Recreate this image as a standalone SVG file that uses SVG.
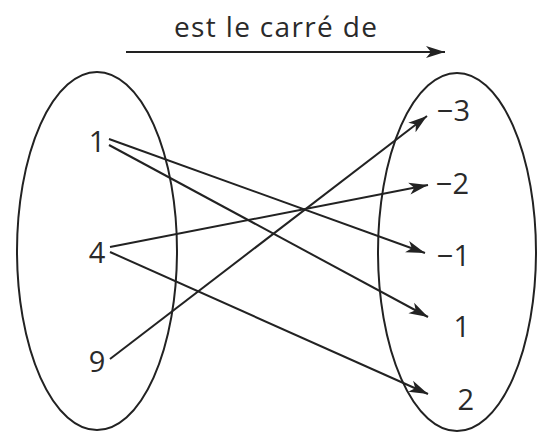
<svg xmlns="http://www.w3.org/2000/svg" width="545" height="432" viewBox="0 0 545 432">
<style>
.lbl{font-family:"Open Sans","Noto Sans","Liberation Sans",sans-serif;font-size:29px;fill:#2a2a2a}
.title{font-family:"Open Sans","Noto Sans","Liberation Sans",sans-serif;font-size:28px;fill:#2a2a2a}
.set{fill:none;stroke:#222;stroke-width:2}
.conn{fill:none;stroke:#222;stroke-width:2}
</style>
<defs>
<marker id="ah" markerUnits="userSpaceOnUse" markerWidth="20" markerHeight="13" refX="19" refY="6.5" orient="auto">
<path d="M0,0.5 L19,6.5 L0,12.5 L5,6.5 z" fill="#222"/>
</marker>
</defs>
<rect width="545" height="432" fill="#fff"/>
<g id="title">
<text class="title" x="174" y="37" textLength="203" lengthAdjust="spacing">est le carré de</text>
<line class="conn" x1="126" y1="52" x2="445" y2="52" marker-end="url(#ah)"/>
</g>
<g id="set-left">
<ellipse class="set" cx="97" cy="251" rx="80" ry="179"/>
</g>
<g id="set-right">
<ellipse class="set" cx="457" cy="252" rx="79" ry="179"/>
</g>
<g id="n1"><text class="lbl" x="97" y="152" text-anchor="middle">1</text></g>
<g id="n4"><text class="lbl" x="97" y="263" text-anchor="middle">4</text></g>
<g id="n9"><text class="lbl" x="97" y="372" text-anchor="middle">9</text></g>
<g id="m3"><text class="lbl" x="470" y="121" text-anchor="end">−3</text></g>
<g id="m2"><text class="lbl" x="469" y="194" text-anchor="end">−2</text></g>
<g id="m1"><text class="lbl" x="470" y="266" text-anchor="end">−1</text></g>
<g id="p1"><text class="lbl" x="470" y="337" text-anchor="end">1</text></g>
<g id="p2"><text class="lbl" x="474" y="410" text-anchor="end">2</text></g>
<g id="connectors">
<line class="conn" x1="109" y1="139" x2="425" y2="253" marker-end="url(#ah)"/>
<line class="conn" x1="109" y1="145" x2="428" y2="317" marker-end="url(#ah)"/>
<line class="conn" x1="110" y1="247" x2="428" y2="185" marker-end="url(#ah)"/>
<line class="conn" x1="110" y1="252" x2="428" y2="394" marker-end="url(#ah)"/>
<line class="conn" x1="110" y1="359" x2="427" y2="116" marker-end="url(#ah)"/>
</g>
</svg>
